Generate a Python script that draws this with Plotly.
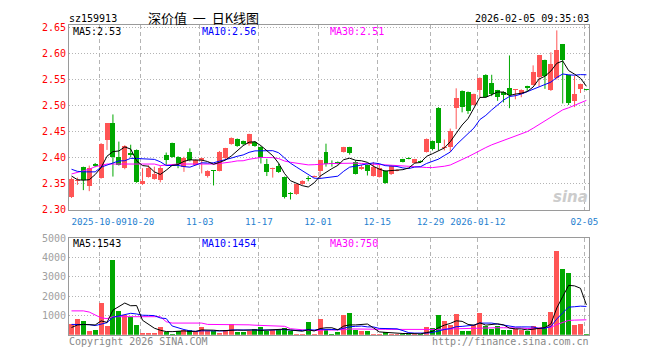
import plotly.graph_objects as go

W, H = 660, 360
MONO = "DejaVu Sans Mono"
CJK = "Noto Sans CJK SC"

# ---------------- data ----------------
opens = [2.325, 2.355, 2.382, 2.346, 2.389, 2.362, 2.434, 2.466, 2.402, 2.380,
         2.410, 2.415, 2.349, 2.363, 2.360, 2.357, 2.406, 2.428, 2.402, 2.383,
         2.412, 2.387, 2.395, 2.366, 2.375, 2.375, 2.399, 2.427, 2.436, 2.432,
         2.427, 2.431, 2.421, 2.388, 2.378, 2.384, 2.363, 2.332, 2.330, 2.349,
         2.360, 2.363, 2.375, 2.412, 2.390, 2.391, 2.412, 2.420, 2.392, 2.378,
         2.386, 2.365, 2.363, 2.375, 2.369, 2.375, 2.397, 2.400, 2.390, 2.394,
         2.412, 2.432, 2.495, 2.419, 2.420, 2.496, 2.528, 2.526, 2.501, 2.530,
         2.559, 2.543, 2.529, 2.526, 2.533, 2.529, 2.522, 2.537, 2.540, 2.555,
         2.587, 2.530, 2.552, 2.617, 2.558, 2.508, 2.532, 2.531]
highs = [2.362, 2.362, 2.383, 2.385, 2.390, 2.428, 2.466, 2.483, 2.431, 2.424,
         2.425, 2.416, 2.380, 2.385, 2.383, 2.384, 2.410, 2.429, 2.403, 2.402,
         2.418, 2.397, 2.400, 2.376, 2.376, 2.413, 2.419, 2.439, 2.437, 2.433,
         2.446, 2.432, 2.422, 2.398, 2.381, 2.389, 2.364, 2.334, 2.350, 2.357,
         2.365, 2.366, 2.396, 2.427, 2.395, 2.393, 2.421, 2.421, 2.395, 2.386,
         2.387, 2.392, 2.387, 2.376, 2.386, 2.378, 2.398, 2.401, 2.398, 2.395,
         2.437, 2.433, 2.497, 2.435, 2.456, 2.533, 2.529, 2.527, 2.523, 2.554,
         2.560, 2.559, 2.530, 2.527, 2.596, 2.531, 2.531, 2.538, 2.577, 2.597,
         2.588, 2.602, 2.644, 2.618, 2.559, 2.557, 2.542, 2.531]
lows = [2.323, 2.348, 2.338, 2.336, 2.382, 2.360, 2.415, 2.364, 2.385, 2.378,
        2.401, 2.352, 2.348, 2.362, 2.358, 2.353, 2.386, 2.400, 2.380, 2.373,
        2.393, 2.385, 2.370, 2.362, 2.347, 2.374, 2.396, 2.425, 2.421, 2.424,
        2.423, 2.421, 2.389, 2.365, 2.362, 2.371, 2.322, 2.320, 2.329, 2.348,
        2.355, 2.362, 2.360, 2.383, 2.383, 2.387, 2.410, 2.406, 2.368, 2.377,
        2.366, 2.364, 2.362, 2.350, 2.367, 2.374, 2.391, 2.397, 2.389, 2.390,
        2.410, 2.414, 2.414, 2.414, 2.411, 2.455, 2.487, 2.484, 2.500, 2.516,
        2.515, 2.518, 2.509, 2.506, 2.495, 2.512, 2.516, 2.528, 2.539, 2.536,
        2.532, 2.528, 2.550, 2.504, 2.501, 2.497, 2.524, 2.529]
closes = [2.360, 2.357, 2.358, 2.380, 2.384, 2.427, 2.466, 2.402, 2.386, 2.423,
          2.406, 2.354, 2.356, 2.380, 2.369, 2.381, 2.395, 2.402, 2.388, 2.400,
          2.395, 2.395, 2.399, 2.375, 2.374, 2.412, 2.418, 2.438, 2.422, 2.426,
          2.445, 2.423, 2.400, 2.372, 2.380, 2.372, 2.325, 2.331, 2.349, 2.356,
          2.359, 2.365, 2.395, 2.389, 2.388, 2.390, 2.420, 2.409, 2.369, 2.383,
          2.375, 2.383, 2.381, 2.351, 2.385, 2.377, 2.392, 2.398, 2.397, 2.391,
          2.436, 2.417, 2.429, 2.421, 2.451, 2.515, 2.498, 2.490, 2.522, 2.553,
          2.516, 2.522, 2.517, 2.521, 2.520, 2.530, 2.530, 2.533, 2.565, 2.596,
          2.557, 2.580, 2.607, 2.587, 2.504, 2.523, 2.541, 2.530]
volumes = [560, 820, 720, 185, 220, 1620, 430, 3880, 1220, 1030,
           920, 480, 70, 100, 100, 400, 130, 50, 170, 230,
           250, 170, 400, 170, 170, 100, 250, 530, 130, 130,
           170, 270, 400, 170, 250, 250, 370, 170, 50, 50,
           630, 50, 800, 250, 50, 120, 1000, 1100, 250, 200,
           200, 35, 35, 130, 50, 35, 50, 35, 35, 50,
           380, 330, 1000, 700, 500, 1050, 200, 200, 500, 1117,
           450, 280, 450, 250, 250, 280, 250, 200, 450, 300,
           630, 1170, 4350, 3400, 3200, 500, 550, 50]

# moving-average values at the start of the window (days before the chart are not shown)
ma5_head = [2.365, 2.358, 2.357, 2.358]
ma10_head = [2.378, 2.374, 2.373, 2.373, 2.373, 2.382, 2.386, 2.390, 2.394]
ma30_head = [2.369, 2.372, 2.375, 2.378, 2.383, 2.386, 2.388, 2.388, 2.388, 2.388,
             2.388, 2.388, 2.388, 2.388, 2.388, 2.385, 2.386, 2.388, 2.388, 2.388,
             2.388, 2.388, 2.387, 2.387, 2.388, 2.389, 2.390, 2.392, 2.394]
vma5_head = [370, 500, 530, 530]
vma10_head = [530, 530, 540, 520, 470, 560, 620, 900, 970]
vma30_head = [1230, 1230, 1230, 1170, 1000, 870, 830, 930, 930, 930,
              930, 930, 930, 930, 930, 930, 670, 600, 600, 600,
              600, 600, 600, 530, 530, 530, 530, 530, 530]

tick_idx = [5, 12, 22, 32, 42, 52, 61, 69, 87]
tick_text = ["2025-10-09", "10-20", "11-03", "11-17", "12-01", "12-15",
             "12-29", "2026-01-12", "02-05"]
price_ticks = [2.30, 2.35, 2.40, 2.45, 2.50, 2.55, 2.60, 2.65]
vol_ticks = [1000, 2000, 3000, 4000, 5000]

code = "sz159913"
title = "深价值&nbsp;&nbsp;一&nbsp;&nbsp;日K线图"
stamp = "2026-02-05 09:35:03"
ma_price_text = ["MA5:2.53", "MA10:2.56", "MA30:2.51"]
ma_vol_text = ["MA5:1543", "MA10:1454", "MA30:750"]

# ---------------- derived ----------------
def moving_avg(vals, n, head):
    out = list(head)
    for i in range(len(head), len(vals)):
        out.append(sum(vals[i - n + 1:i + 1]) / n)
    return out

n = len(closes)
xs = list(range(n))
RED, GREEN = "#ff5555", "#00a800"
up = [c >= o for o, c in zip(opens, closes)]
cols = [RED if u else GREEN for u in up]

ma5 = moving_avg(closes, 5, ma5_head)
ma10 = moving_avg(closes, 10, ma10_head)
ma30 = moving_avg(closes, 30, ma30_head)
vma5 = moving_avg(volumes, 5, vma5_head)
vma10 = moving_avg(volumes, 10, vma10_head)
vma30 = moving_avg(volumes, 30, vma30_head)

fig = go.Figure()

# wicks
for flag, col in ((True, RED), (False, GREEN)):
    wx, wy = [], []
    for i in xs:
        if up[i] == flag:
            wx += [i, i, None]
            wy += [lows[i], highs[i], None]
    fig.add_trace(go.Scatter(x=wx, y=wy, mode="lines", line=dict(color=col, width=1),
                             hoverinfo="skip", xaxis="x", yaxis="y"))

# bodies
base = [min(o, c) for o, c in zip(opens, closes)]
hgt = [max(abs(c - o), 0.0019) for o, c in zip(opens, closes)]
fig.add_trace(go.Bar(x=xs, y=hgt, base=base, width=0.84, marker=dict(color=cols, line=dict(width=0)),
                     xaxis="x", yaxis="y", hoverinfo="skip"))

for vals, col in ((ma30, "#ff00ff"), (ma10, "#0000ff"), (ma5, "#000000")):
    fig.add_trace(go.Scatter(x=xs, y=vals, mode="lines", line=dict(color=col, width=1),
                             xaxis="x", yaxis="y", hoverinfo="skip"))

# volume
fig.add_trace(go.Bar(x=xs, y=volumes, width=0.84, marker=dict(color=cols, line=dict(width=0)),
                     xaxis="x2", yaxis="y2", hoverinfo="skip"))
for vals, col in ((vma30, "#ff00ff"), (vma10, "#0000ff"), (vma5, "#000000")):
    fig.add_trace(go.Scatter(x=xs, y=vals, mode="lines", line=dict(color=col, width=1),
                             xaxis="x2", yaxis="y2", hoverinfo="skip"))

# ---------------- layout ----------------
L, R = 70, 597
P_TOP, P_BOT = 20, 211
V_TOP, V_BOT = 240, 340
xr = [-(2.5 / 6), (n - 1) + (R - L - 2.5 - 6 * (n - 1)) / 6]
grid_pos = [i - 2.0 / 6 for i in tick_idx]
FRAME = "#9a9a9a"
GRID = "#b4b4b4"

common_x = dict(range=xr, showgrid=True, gridcolor=GRID, griddash="4px,3px", gridwidth=1,
                tickvals=grid_pos, showline=True, mirror=True, linecolor=FRAME, linewidth=1,
                zeroline=False, ticks="", fixedrange=True, tickangle=0)
fig.update_layout(
    width=W, height=H, margin=dict(l=0, r=0, t=0, b=0),
    paper_bgcolor="white", plot_bgcolor="white", showlegend=False,
    bargap=0, hovermode=False,
    xaxis=dict(domain=[L / W, R / W], anchor="y", ticktext=tick_text, ticklabelstandoff=3,
               tickfont=dict(family=MONO, size=9.2, color="#1f7fd0"), **common_x),
    xaxis2=dict(domain=[L / W, R / W], anchor="y2", showticklabels=False, **common_x),
    yaxis=dict(domain=[1 - P_BOT / H, 1 - P_TOP / H], range=[2.30, 2.30 + (P_BOT - P_TOP) / 540],
               tickvals=price_ticks, ticktext=[f"{v:.2f}" for v in price_ticks],
               tickfont=dict(family=MONO, size=10, color="#ff0000"),
               showgrid=True, gridcolor=GRID, griddash="1px,2px", zeroline=False,
               showline=True, mirror=True, linecolor=FRAME, ticks="", fixedrange=True),
    yaxis2=dict(domain=[1 - V_BOT / H, 1 - V_TOP / H], range=[0, 5000],
                tickvals=vol_ticks, ticktext=[str(v) for v in vol_ticks],
                tickfont=dict(family=MONO, size=10, color="#a0a0a0"),
                showgrid=True, gridcolor=GRID, griddash="1px,2px", zeroline=False,
                showline=True, mirror=True, linecolor=FRAME, ticks="", fixedrange=True),
)

def ann(text, x, y, color, size=10, xanchor="left", family=MONO, **kw):
    fig.add_annotation(text=text, x=x / W, y=1 - y / H, xref="paper", yref="paper",
                       xanchor=xanchor, yanchor="middle", showarrow=False, borderpad=0,
                       font=dict(family=family, size=size, color=color), **kw)

ann(code, 69, 13, "#000000", size=10)
ann(title, 206, 12, "#000000", size=13, xanchor="center", family=CJK)
ann(stamp, 598, 13, "#000000", size=10, xanchor="right")
ma_cols = ["#000000", "#0000ff", "#ff00ff"]
for txt, col, xx in zip(ma_price_text, ma_cols, (73, 204, 334)):
    ann(txt, xx, 26, col, size=10)
for txt, col, xx in zip(ma_vol_text, ma_cols, (73, 204, 334)):
    ann(txt, xx, 246, col, size=10)
ann("Copyright 2026 SINA.COM", 69, 347, "#888888", size=10)
ann("http://finance.sina.com.cn", 598, 347, "#888888", size=10, xanchor="right")
ann("<b><i>sina</i></b>", 597, 198, "#cccccc", size=15, xanchor="right", family="DejaVu Sans")

fig.write_html("out.html", config={"displayModeBar": False, "staticPlot": True})
